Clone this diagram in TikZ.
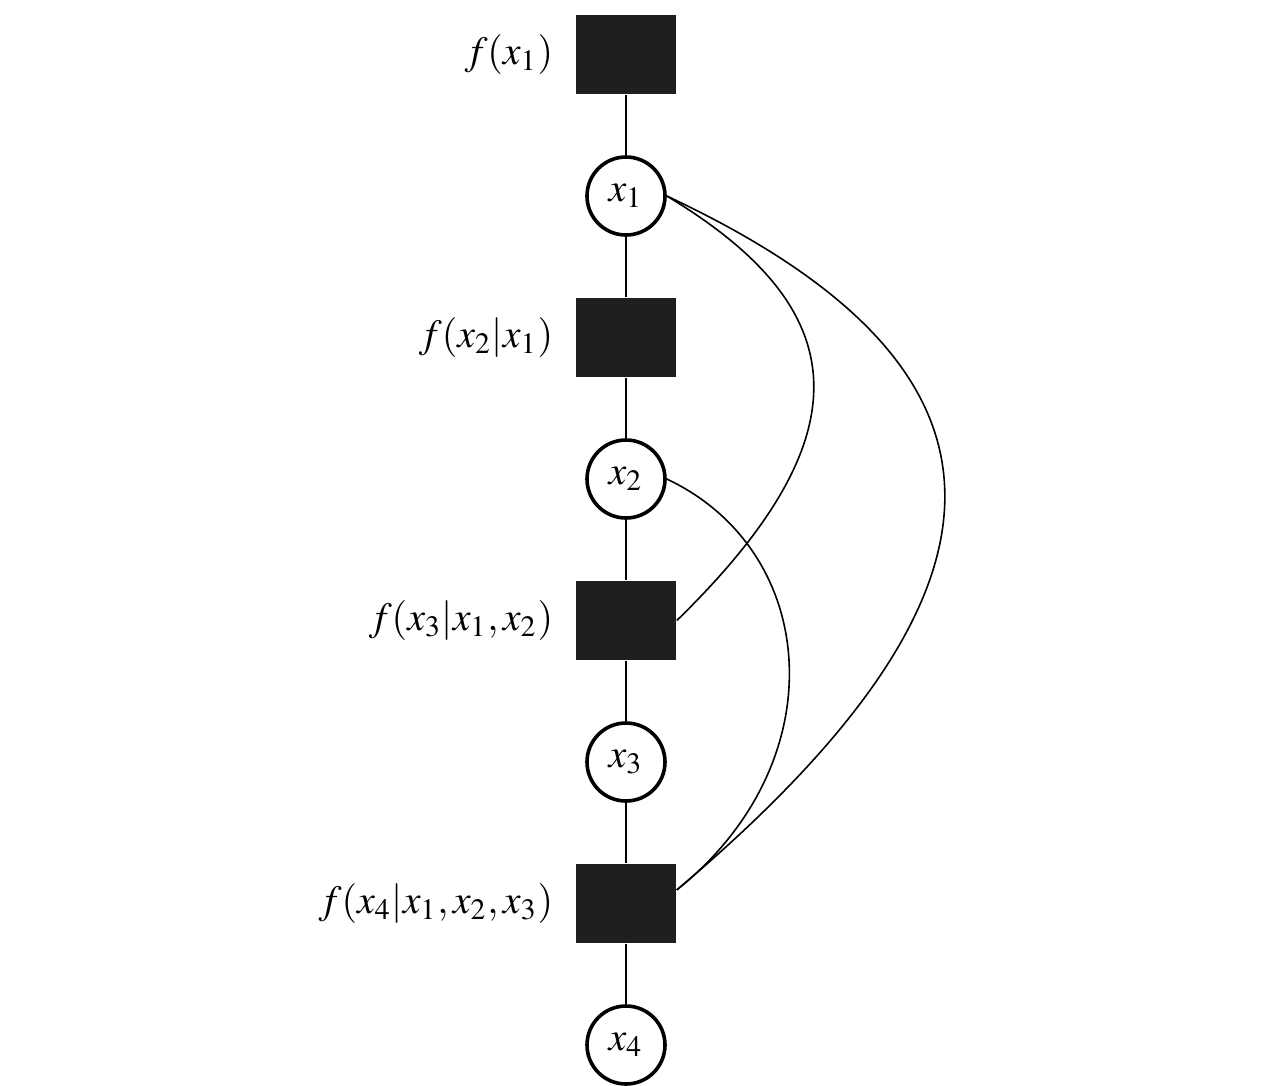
\documentclass[tikz,border=0pt]{standalone}
\usepackage{mathptmx}
\usetikzlibrary{positioning}
\begin{document}
\begin{tikzpicture}[
x=0.25pt,
y=-0.25pt,
factor/.style={
  draw=none,
  fill=black!88,
  rectangle,
  minimum width=25pt,
  minimum height=19.75pt,
  inner sep=0pt
  },
var/.style={
  draw,
  fill=white,
  circle,
  line width=0.9pt,
  minimum size=19.5pt,
  inner sep=0pt
  },
label distance=2pt,
node distance=15.1pt,
font=\fontsize{10}{12}\selectfont
]
\useasboundingbox (0,0) rectangle (1276,1085);
\node[factor, label=left:{$f(x_1)$}] (f1) at (626,54.5) {};
\node[var, below=of f1] (x1) {$x_1$};
\node[factor, below=of x1, label=left:{$f(x_2|x_1)$}] (f2) {};
\node[var, below=of f2] (x2) {$x_2$};
\node[factor, below=of x2, label=left:{$f(x_3|x_1,x_2)$}] (f3) {};
\node[var, below=of f3] (x3) {$x_3$};
\node[factor, below=of x3, label=left:{$f(x_4|x_1,x_2,x_3)$}] (f4) {};
\node[var, below=of f4] (x4) {$x_4$};
\foreach \i in {1,...,4}
  \draw (f\i) -- (x\i);
\foreach \i [count=\j from 2] in {1,2,3}
  \draw (x\i) -- (f\j);
\draw (x1.east) .. controls +(183,110) and +(195,-190) .. (f3.east);
\draw (x1.east) .. controls +(363,170) and +(365,-308) .. (f4.15);
\draw (x2.east) .. controls +(153,72) and +(160,-128) .. (f4.15);
\end{tikzpicture}
\end{document}
